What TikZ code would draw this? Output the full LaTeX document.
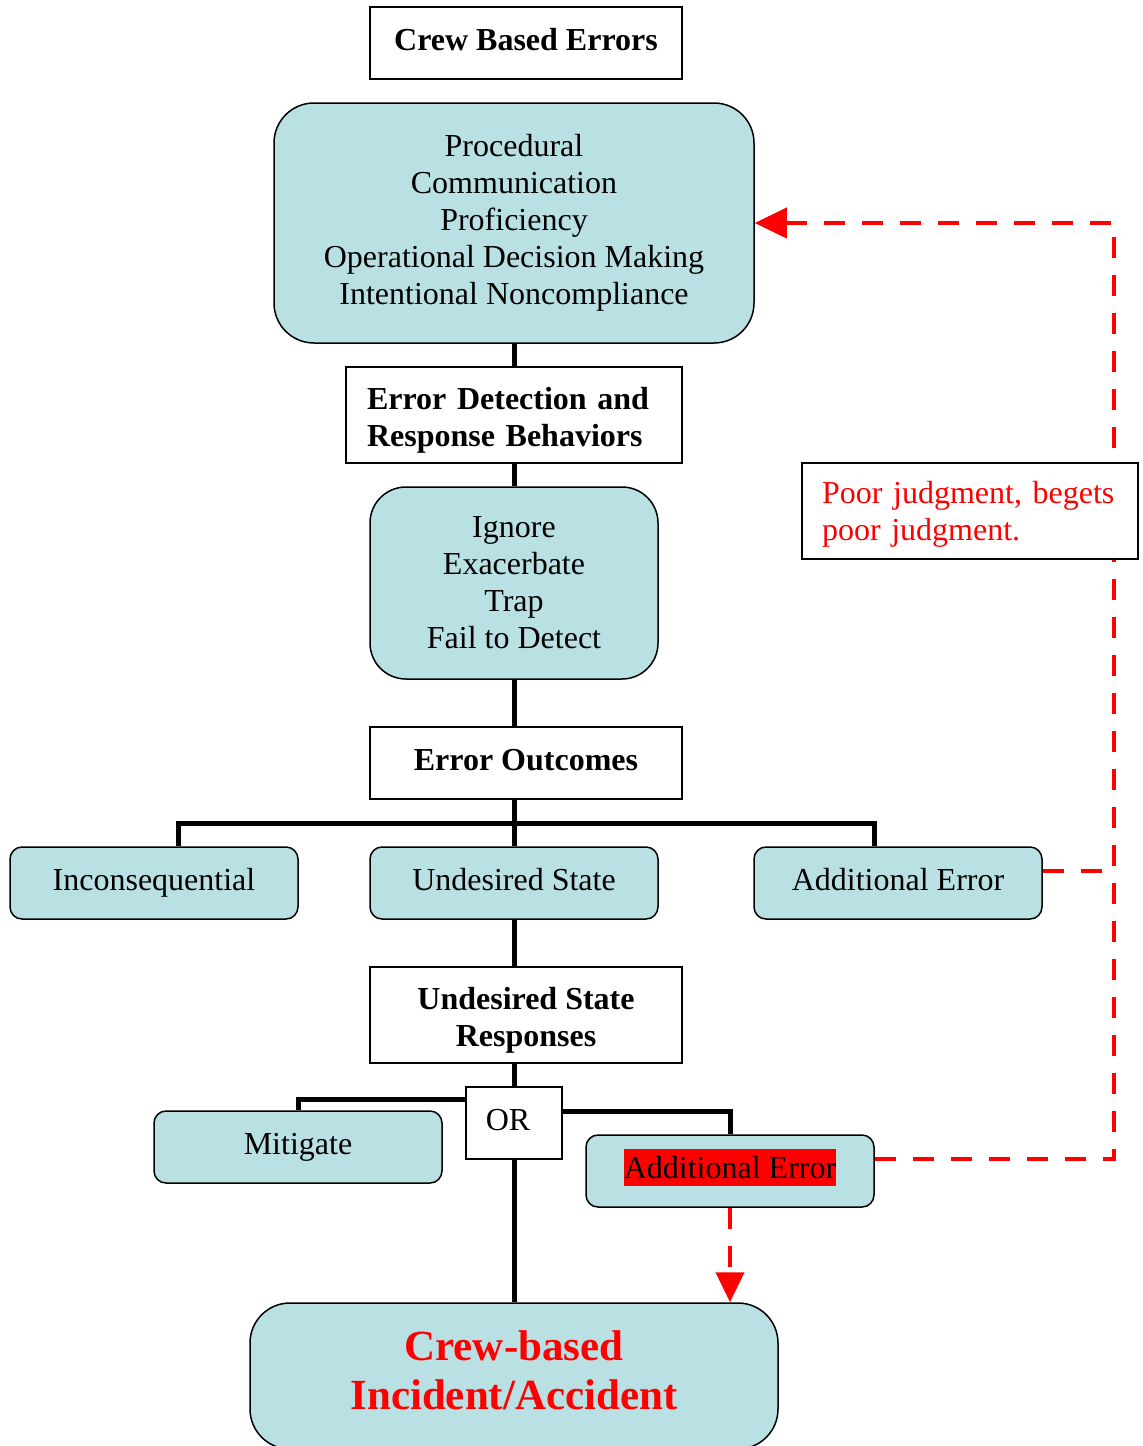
\documentclass[tikz,border=0pt]{standalone}
\usepackage{xcolor}
\usepackage{fontspec}
\setmainfont{Liberation Serif}
\usepackage{tikz}
\usetikzlibrary{positioning, calc, arrows.meta}
\definecolor{boxfill}{RGB}{185,224,227}

\begin{document}
\begin{tikzpicture}[x=1pt, y=-1pt,
	every node/.style={font=\fontsize{32}{37}\selectfont, inner sep=0pt},
	plain/.style={draw, line width=1.5pt, fill=white},
	roundbox/.style={draw, line width=1.5pt, fill=boxfill, align=center},
	oneline/.style={text height=22pt, text depth=8pt},
	link/.style={line width=5pt},
	redlink/.style={red, line width=4pt, dash pattern=on 21pt off 17pt}]
	
	\useasboundingbox (0,0) rectangle (1143,1446);
	
	%//boxes, top to bottom
	\node [plain, oneline, minimum width=312, minimum height=72, font=\fontsize{32}{37}\selectfont\bfseries] (crew) at (526,43) {Crew Based Errors};
	\node [roundbox, rounded corners=40pt, minimum width=480, minimum height=240] (types) at (514,223)
	{Procedural\\Communication\\Proficiency\\Operational Decision Making\\Intentional Noncompliance};
	\node [plain, minimum width=336, minimum height=96, text width=294, align=left, font=\fontsize{32}{37}\selectfont\bfseries] (detect) at (514,415)
	{\rule{0pt}{32pt}Error Detection and\\Response Behaviors};
	\node [roundbox, rounded corners=36pt, minimum width=288, minimum height=192] (behav) at (514,583)
	{Ignore\\Exacerbate\\Trap\\Fail to Detect};
	\node [plain, oneline, minimum width=312, minimum height=72, font=\fontsize{32}{37}\selectfont\bfseries] (outcomes) at (526,763) {Error Outcomes};
	
	\node [roundbox, oneline, rounded corners=12pt, minimum width=288, minimum height=72] (incon) at (154,883) {Inconsequential};
	\node [roundbox, oneline, rounded corners=12pt, minimum width=288, minimum height=72] (undes) at (514,883) {Undesired State};
	\node [roundbox, oneline, rounded corners=12pt, minimum width=288, minimum height=72] (addl) at (898,883) {Additional Error};
	
	\node [plain, minimum width=312, minimum height=96, align=center, font=\fontsize{32}{37}\selectfont\bfseries] (resp) at (526,1015)
	{\rule{0pt}{32pt}Undesired State\\Responses};
	\node [plain, oneline, minimum width=96, minimum height=72] (orbox) at (514,1123) {OR\kern12pt};
	\node [roundbox, oneline, rounded corners=12pt, minimum width=288, minimum height=72] (mitig) at (298,1147) {Mitigate};
	\node [roundbox, oneline, rounded corners=12pt, minimum width=288, minimum height=72] (adderr) at (730,1171)
	{{\setlength\fboxsep{0pt}\colorbox{red}{\rule[-8pt]{0pt}{37pt}Additional Error}}};
	\node [roundbox, rounded corners=40pt, minimum width=528, minimum height=146, text=red, font=\fontsize{43}{49}\selectfont\bfseries] (final) at (514,1376)
	{Crew-based\\Incident/Accident\rule[-11pt]{0pt}{1pt}};
	
	%//black connectors
	\draw [link] (types.south) -- (detect.north);
	\draw [link] (detect.south) -- (behav.north);
	\draw [link] (behav.south) -- (behav.south |- outcomes.north);
	\coordinate (bar) at (514,823);
	\draw [link] (behav.south |- outcomes.south) -- (bar);
	\draw [link] ([xshift=24pt]incon.north) |- (bar) -| ([xshift=-24pt]addl.north);
	\draw [link] (bar) -- (undes.north);
	\draw [link] (undes.south) -- (undes.south |- resp.north);
	\draw [link] (resp.south -| orbox.north) -- (orbox.north);
	\draw [link] ([yshift=24pt]orbox.west) -| (mitig.north);
	\draw [link] ([yshift=12pt]orbox.east) -| (adderr.north);
	\draw [link] (orbox.south) -- (orbox.south |- final.north);
	
	%//red feedback loop
	\coordinate (turn) at (1114,223);
	\draw [redlink, -{Triangle[length=32pt, width=30pt]}] ([yshift=12pt]adderr.east) -| (turn) -- (types.east);
	\draw [redlink] ([yshift=12pt]addl.east) -- ([yshift=12pt]addl.east -| turn);
	\draw [redlink, -{Triangle[length=30pt, width=28pt]}] (adderr.south) -- (adderr.south |- final.north);
	
	\node [plain, minimum width=336, minimum height=96, text width=296, align=left, text=red] (poor) at (970,511)
	{\rule{0pt}{28pt}Poor judgment, begets\\poor judgment.};
	
\end{tikzpicture}
\end{document}
